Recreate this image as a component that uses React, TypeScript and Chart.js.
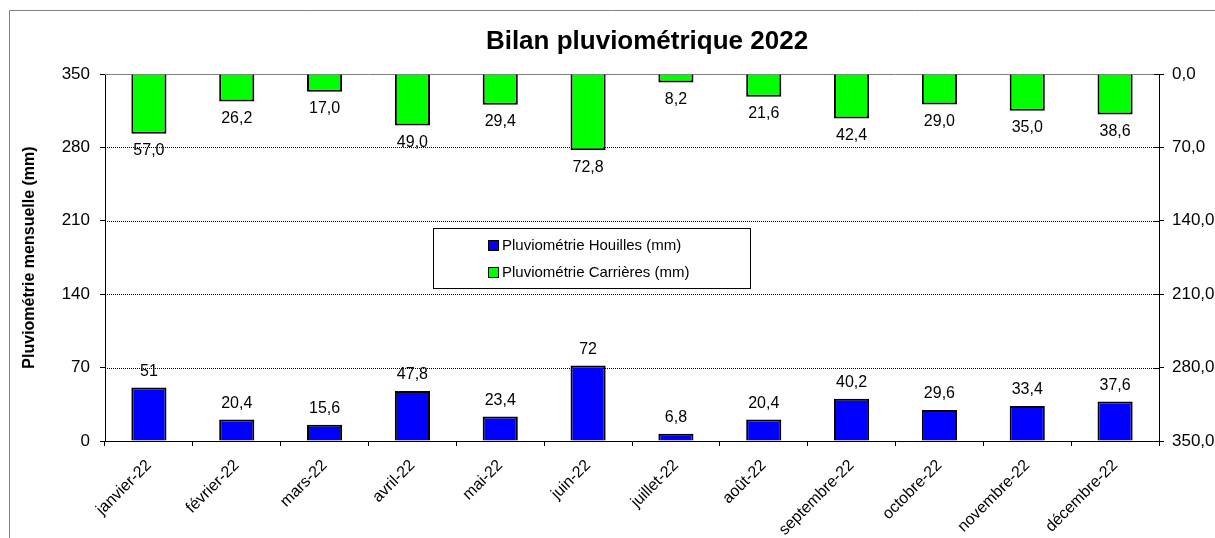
import React, { useEffect, useRef } from "react";
import { Chart, registerables } from "chart.js";

Chart.register(...registerables);

const months = [
  "janvier-22", "février-22", "mars-22", "avril-22", "mai-22", "juin-22",
  "juillet-22", "août-22", "septembre-22", "octobre-22", "novembre-22", "décembre-22",
];
const houilles = [51, 20.4, 15.6, 47.8, 23.4, 72, 6.8, 20.4, 40.2, 29.6, 33.4, 37.6];
const carrieres = [57.0, 26.2, 17.0, 49.0, 29.4, 72.8, 8.2, 21.6, 42.4, 29.0, 35.0, 38.6];
const leftTicks = [0, 70, 140, 210, 280, 350];
const seriesNames = ["Pluviométrie Houilles (mm)", "Pluviométrie Carrières (mm)"];
const chartTitle = "Bilan pluviométrique 2022";
const leftAxisTitle = "Pluviométrie mensuelle (mm)";

const FONT = "'Liberation Sans', Arial, sans-serif";
const BLUE = "#0000FF";
const GREEN = "#00FF00";

const decorPlugin = {
  id: "decor",
  beforeDraw(chart: any) {
    const ctx = chart.ctx;
    ctx.save();
    ctx.fillStyle = "#fff";
    ctx.fillRect(0, 0, chart.width, chart.height);
    // outer frame
    ctx.strokeStyle = "#808080";
    ctx.lineWidth = 1;
    ctx.beginPath();
    ctx.moveTo(9.5, chart.height + 5);
    ctx.lineTo(9.5, 10.5);
    ctx.lineTo(chart.width + 5, 10.5);
    ctx.stroke();
    // title
    ctx.fillStyle = "#000";
    ctx.font = `bold 26px ${FONT}`;
    ctx.textAlign = "center";
    ctx.textBaseline = "middle";
    ctx.fillText(chartTitle, 647, 42);
    // left axis title
    ctx.save();
    ctx.translate(30, (chart.chartArea.top + chart.chartArea.bottom) / 2);
    ctx.rotate(-Math.PI / 2);
    ctx.font = `bold 16px ${FONT}`;
    ctx.fillText(leftAxisTitle, 0, 0);
    ctx.restore();
    ctx.restore();
  },
  beforeDatasetsDraw(chart: any) {
    const ctx = chart.ctx;
    const area = chart.chartArea;
    const y = chart.scales.y;
    ctx.save();
    ctx.lineWidth = 1;
    leftTicks.forEach((v) => {
      const py = Math.round(y.getPixelForValue(v)) + 0.5;
      if (v === 0) return;
      ctx.beginPath();
      if (v === 350) {
        ctx.strokeStyle = "#808080";
        ctx.setLineDash([]);
      } else {
        ctx.strokeStyle = "#000";
        ctx.setLineDash([1, 1]);
      }
      ctx.moveTo(area.left, py);
      ctx.lineTo(area.right, py);
      ctx.stroke();
    });
    ctx.setLineDash([]);
    // right axis inner tick halves
    ctx.strokeStyle = "#000";
    leftTicks.forEach((v) => {
      const py = Math.round(y.getPixelForValue(v)) + 0.5;
      ctx.beginPath();
      ctx.moveTo(area.right - 5, py);
      ctx.lineTo(area.right, py);
      ctx.stroke();
    });
    ctx.restore();
  },
  afterDatasetsDraw(chart: any) {
    const ctx = chart.ctx;
    ctx.save();
    ctx.font = `16px ${FONT}`;
    ctx.fillStyle = "#000";
    ctx.textAlign = "center";
    ctx.textBaseline = "middle";
    const m0 = chart.getDatasetMeta(0);
    m0.data.forEach((el: any, i: number) => {
      const txt = String(houilles[i]).replace(".", ",");
      ctx.fillText(txt, el.x, el.y - 16);
    });
    const m1 = chart.getDatasetMeta(1);
    m1.data.forEach((el: any, i: number) => {
      const txt = carrieres[i].toFixed(1).replace(".", ",");
      ctx.fillText(txt, el.x, el.y + 17);
    });
    // legend
    const lx = 433, ly = 228, lw = 317, lh = 60;
    ctx.fillStyle = "#fff";
    ctx.fillRect(lx, ly, lw, lh);
    ctx.strokeStyle = "#000";
    ctx.lineWidth = 1;
    ctx.strokeRect(lx + 0.5, ly + 0.5, lw, lh);
    const colors = [BLUE, GREEN];
    ctx.font = `15px ${FONT}`;
    ctx.textAlign = "left";
    seriesNames.forEach((name, i) => {
      const cy = ly + 17 + i * 27;
      ctx.fillStyle = colors[i];
      ctx.fillRect(489, cy - 4, 9, 9);
      ctx.strokeStyle = "#000";
      ctx.strokeRect(488.5, cy - 4.5, 10, 10);
      ctx.fillStyle = "#000";
      ctx.fillText(name, 502, cy + 1);
    });
    ctx.restore();
  },
};

export default function App() {
  const ref = useRef<HTMLCanvasElement>(null);
  useEffect(() => {
    if (!ref.current) return;
    const chart = new Chart(ref.current, {
      type: "bar",
      data: {
        labels: months,
        datasets: [
          {
            label: seriesNames[0],
            data: houilles,
            backgroundColor: BLUE,
            borderColor: "#000",
            borderWidth: 2,
            yAxisID: "y",
            grouped: false,
            barPercentage: 0.4,
            categoryPercentage: 1,
          } as any,
          {
            label: seriesNames[1],
            data: carrieres,
            backgroundColor: GREEN,
            borderColor: "#000",
            borderWidth: 2,
            yAxisID: "y2",
            grouped: false,
            barPercentage: 0.4,
            categoryPercentage: 1,
          } as any,
        ],
      },
      options: {
        responsive: false,
        animation: false,
        layout: { padding: { top: 74, left: 0, right: 0, bottom: 0 } },
        plugins: {
          legend: { display: false },
          title: { display: false },
          tooltip: { enabled: false },
        },
        scales: {
          x: {
            offset: true,
            grid: {
              offset: true,
              drawOnChartArea: false,
              drawTicks: true,
              tickLength: 5,
              color: "#000",
            },
            border: { display: true, color: "#000", width: 1 },
            ticks: {
              color: "#000",
              font: { family: FONT, size: 16 },
              minRotation: 45,
              maxRotation: 45,
              autoSkip: false,
              padding: 10,
            },
            afterFit: (s: any) => {
              s.height = 97;
            },
          },
          y: {
            position: "left",
            min: 0,
            max: 350,
            ticks: {
              stepSize: 70,
              color: "#000",
              font: { family: FONT, size: 17 },
              padding: 10,
            },
            grid: { drawOnChartArea: false, tickLength: 5, color: "#000" },
            border: { display: true, color: "#000", width: 1 },
            afterFit: (s: any) => {
              s.width = 105;
            },
          },
          y2: {
            position: "right",
            reverse: true,
            min: 0,
            max: 350,
            ticks: {
              stepSize: 70,
              color: "#000",
              font: { family: FONT, size: 17 },
              padding: 8,
              callback: (v: any) => Number(v).toFixed(1).replace(".", ","),
            },
            grid: { drawOnChartArea: false, tickLength: 5, color: "#000" },
            border: { display: true, color: "#000", width: 1 },
            afterFit: (s: any) => {
              s.width = 56;
            },
          },
        },
      } as any,
      plugins: [decorPlugin],
    });
    return () => chart.destroy();
  }, []);
  return (
    <div style={{ position: "absolute", left: 0, top: 0, width: 1215, height: 538 }}>
      <canvas ref={ref} width={1215} height={538} style={{ display: "block" }} />
    </div>
  );
}
